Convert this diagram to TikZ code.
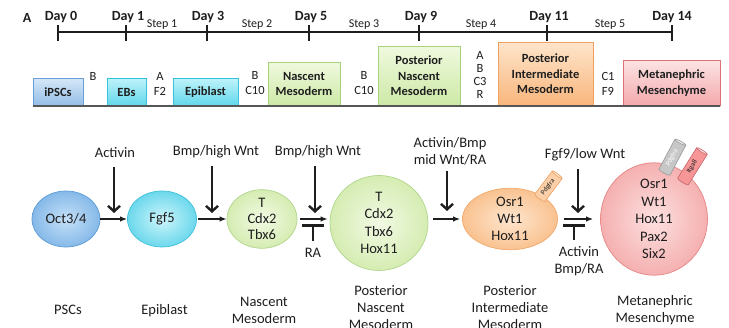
\documentclass[tikz,border=0pt]{standalone}
\usepackage{fontspec}
\setmainfont{Carlito}
\usetikzlibrary{arrows.meta,shapes.geometric,shadows}
\definecolor{ink}{HTML}{1E1E1E}
\definecolor{bluetop}{HTML}{D4E7F8}\definecolor{bluebot}{HTML}{94BDE6}\definecolor{blueline}{HTML}{6B9ED6}
\definecolor{cyantop}{HTML}{BDF3FA}\definecolor{cyanbot}{HTML}{62D7EB}\definecolor{cyanline}{HTML}{36C2D8}
\definecolor{greentop}{HTML}{EFF9DE}\definecolor{greenbot}{HTML}{CDE9A6}\definecolor{greenline}{HTML}{A8D27C}
\definecolor{orangetop}{HTML}{FEE4CA}\definecolor{orangebot}{HTML}{F8B67C}\definecolor{orangeline}{HTML}{F0A160}
\definecolor{pinktop}{HTML}{FCE3E3}\definecolor{pinkbot}{HTML}{F3A8AC}\definecolor{pinkline}{HTML}{DE7078}
\definecolor{octin}{HTML}{C4E1F8}\definecolor{octout}{HTML}{86B9E8}\definecolor{octline}{HTML}{5B9BD5}
\definecolor{fgfin}{HTML}{CDF5FB}\definecolor{fgfout}{HTML}{6CD8EC}\definecolor{fgfline}{HTML}{3FC0D8}
\definecolor{grin}{HTML}{F2FAE4}\definecolor{grout}{HTML}{D5ECB2}\definecolor{grline}{HTML}{B0D68A}
\definecolor{orin}{HTML}{FEE6CF}\definecolor{orout}{HTML}{F9C290}\definecolor{orline}{HTML}{F2A86A}
\definecolor{pkin}{HTML}{FDE0E0}\definecolor{pkout}{HTML}{F5B0B0}\definecolor{pkline}{HTML}{E58585}
\begin{document}
\begin{tikzpicture}[x=1pt,y=-1pt,
  every node/.style={text=ink},
  day/.style={font=\fontsize{14}{16}\selectfont\bfseries, inner sep=0pt},
  stepl/.style={font=\fontsize{12}{14}\selectfont, inner sep=0pt},
  tl/.style={line width=1.8pt, draw=ink},
  box/.style={draw, rectangle, line width=0.9pt, align=center, inner sep=0pt, anchor=south,
     font=\fontsize{12.5}{15.5}\selectfont\bfseries,
     drop shadow={opacity=0.25, shadow xshift=1.3pt, shadow yshift=-1.3pt}},
  bluebox/.style={box, draw=blueline, top color=bluetop, bottom color=bluebot},
  cyanbox/.style={box, draw=cyanline, top color=cyantop, bottom color=cyanbot},
  greenbox/.style={box, draw=greenline, top color=greentop, bottom color=greenbot},
  orangebox/.style={box, draw=orangeline, top color=orangetop, bottom color=orangebot},
  pinkbox/.style={box, draw=pinkline, top color=pinktop, bottom color=pinkbot},
  reag/.style={font=\fontsize{12.5}{15}\selectfont, align=center, inner sep=0pt},
  cell/.style={ellipse, draw, line width=0.7pt, inner sep=0pt, align=center,
     font=\fontsize{14.5}{17}\selectfont},
  octc/.style={cell, draw=octline, inner color=octin, outer color=octout},
  fgfc/.style={cell, draw=fgfline, inner color=fgfin, outer color=fgfout},
  grc/.style={cell, draw=grline, inner color=grin, outer color=grout},
  orc/.style={cell, draw=orline, inner color=orin, outer color=orout},
  pkc/.style={cell, draw=pkline, inner color=pkin, outer color=pkout},
  lab/.style={font=\fontsize{14.5}{17}\selectfont, align=center, inner sep=1pt},
  harrow/.style={line width=2.6pt, draw=ink, -{Latex[length=7pt,width=5.5pt]}},
  varrow/.style={line width=2.4pt, draw=ink, -{Straight Barb[length=5.5pt,width=12pt]}},
  tbar/.style={line width=2.6pt, draw=ink, -{Bar[width=22pt,line width=2.6pt]}},
  cyl/.style={cylinder, draw, line width=0.6pt, aspect=0.3, minimum width=12.5pt, inner sep=0.5pt,
     font=\fontsize{7}{8}\selectfont, cylinder uses custom fill},
]
\clip (0,0) rectangle (729,328);
\fill[white] (0,0) rectangle (729,328);

% ---------- timeline ----------
\node[day] (lA) at (27,18) {A};
\node[day] (d0) at (61,17) {Day 0};
\node[day] (d1) at (128,17) {Day 1};
\node[day] (d3) at (208,17) {Day 3};
\node[day] (d5) at (311,17) {Day 5};
\node[day] (d9) at (421,17) {Day 9};
\node[day] (d11) at (549,17) {Day 11};
\node[day] (d14) at (672,17) {Day 14};
\coordinate (t0) at (58,32);
\coordinate (t1) at (126,32);
\coordinate (t3) at (207,32);
\coordinate (t5) at (309,32);
\coordinate (t9) at (419,32);
\coordinate (t11) at (547,32);
\coordinate (t14) at (672,32);
\draw[tl] (t0) -- (t14);
\foreach \t in {t0,t1,t3,t5,t9,t11,t14}{
  \draw[tl] ([yshift=7pt]\t) -- ([yshift=-9pt]\t);
}
\node[stepl] (s1) at (162,24.5) {Step 1};
\node[stepl] (s2) at (257,24.5) {Step 2};
\node[stepl] (s3) at (364,24.5) {Step 3};
\node[stepl] (s4) at (481,24.5) {Step 4};
\node[stepl] (s5) at (610,24.5) {Step 5};

% ---------- culture boxes ----------
\node[bluebox, minimum width=50pt, minimum height=27pt] (ipsc) at (58,106) {iPSCs};
\node[cyanbox, minimum width=39pt, minimum height=27pt] (ebs) at (126.5,106) {EBs};
\node[cyanbox, minimum width=65pt, minimum height=27pt] (epi) at (205.5,106) {Epiblast};
\node[greenbox, minimum width=72pt, minimum height=43pt] (nas) at (304,106) {Nascent\\Mesoderm};
\node[greenbox, minimum width=82pt, minimum height=59pt] (pnm) at (419,106) {Posterior\\Nascent\\Mesoderm};
\node[orangebox, minimum width=95pt, minimum height=63pt] (pim) at (545.5,106) {Posterior\\Intermediate\\Mesoderm};
\node[pinkbox, minimum width=97pt, minimum height=45pt] (mm) at (671.5,106) {Metanephric\\Mesenchyme};
\draw[line width=1.3pt, draw=ink!75] (ipsc.south west) -- (mm.south east);

\node[reag] (r1) at (93,76) {B};
\node[reag] (r2) at (160,83.5) {A\\F2};
\node[reag] (r3) at (255,83.5) {B\\C10};
\node[reag] (r4) at (364,83.5) {B\\C10};
\node[reag, font=\fontsize{12.5}{13}\selectfont] (r5) at (480,74.5) {A\\B\\C3\\R};
\node[reag] (r6) at (608,83.5) {C1\\F9};

% ---------- cells ----------
\node[octc, minimum width=68pt, minimum height=56pt] (oct) at (66,219) {Oct3/4};
\node[fgfc, minimum width=69pt, minimum height=56pt] (fgf) at (162,219) {Fgf5};
\node[grc, minimum width=70pt, minimum height=54pt, font=\fontsize{14.5}{16}\selectfont] (cnas) at (262,219) {T\\Cdx2\\Tbx6};
\node[grc, minimum width=98pt, minimum height=95pt, font=\fontsize{14.5}{17.5}\selectfont] (cpnm) at (379,223) {T\\Cdx2\\Tbx6\\Hox11};
\node[orc, minimum width=95pt, minimum height=56pt] (cpim) at (510,219) {Osr1\\Wt1\\Hox11};
\node[pkc, minimum width=107pt, minimum height=96pt, font=\fontsize{14.5}{17.5}\selectfont] (cmm) at (654,219) {Osr1\\Wt1\\Hox11\\Pax2\\Six2};

% receptors
\node[cyl, draw=orangeline, cylinder body fill=orin!40!orout, cylinder end fill=orin,
      rotate=53, minimum height=31pt] (pdg1) at (548,187) {Pdgfra};
\node[cyl, draw=black!40, cylinder body fill=black!22, cylinder end fill=black!8,
      rotate=62, minimum height=36pt, text=white] (pdg2) at (672,158) {Pdgfra};
\node[cyl, draw=pinkline!90!black, cylinder body fill=pkout!85!red, cylinder end fill=pkin,
      rotate=58, minimum height=38pt] (itg) at (692,167) {Itga8};

% horizontal arrows
\draw[harrow] (oct.east) -- (fgf.west);
\draw[harrow, shorten <=1.5pt] (fgf.east) -- (cnas.west);
\draw[harrow, shorten <=3pt, shorten >=2pt] (cnas.east) -- (cnas.east -| cpnm.west);
\draw[harrow, shorten <=5pt, shorten >=2pt] (cpnm.east |- cpim.west) -- (cpim.west);
\draw[harrow, shorten <=6pt, shorten >=7pt] (cpim.east) -- (cpim.east -| cmm.west);

% signal labels and arrows
\node[lab] (sg1) at (115,153) {Activin};
\node[lab] (sg2) at (216,152) {Bmp/high Wnt};
\node[lab] (sg3) at (318,152) {Bmp/high Wnt};
\node[lab] (sg4) at (450,151) {Activin/Bmp\\mid Wnt/RA};
\node[lab] (sg5) at (585,155) {Fgf9/low Wnt};
\coordinate (v1) at (114,213);
\coordinate (v2) at (212,213);
\coordinate (v3) at (315,213);
\coordinate (v4) at (447,211);
\coordinate (v5) at (578,213);
\draw[varrow] (sg1.south -| v1) ++(0,8) -- (v1);
\draw[varrow] (sg2.south -| v2) ++(0,7) -- (v2);
\draw[varrow] (sg3.south -| v3) ++(0,7) -- (v3);
\draw[varrow] (sg4.south -| v4) ++(0,5) -- (v4);
\draw[varrow] (sg5.south -| v5) ++(0,7) -- (v5);

% inhibitors
\node[lab] (inh1) at (313,253) {RA};
\node[lab, font=\fontsize{14.5}{17}\selectfont] (inh2) at (579,261.5) {Activin\\Bmp/RA};
\coordinate (b1) at (313,224);
\coordinate (b2) at (574,224);
\draw[tbar] (inh1.north -| b1) ++(0,-6) -- (b1);
\draw[tbar] (inh2.north -| b2) ++(0,-6) -- (b2);

% stage names
\node[lab] (n1) at (68,310) {PSCs};
\node[lab] (n2) at (164.5,311) {Epiblast};
\node[lab] (n3) at (264,310) {Nascent\\Mesoderm};
\node[lab, anchor=north] (n4) at (381,284) {Posterior\\Nascent\\Mesoderm};
\node[lab, anchor=north] (n5) at (510,284) {Posterior\\Intermediate\\Mesoderm};
\node[lab] (n6) at (655,310.5) {Metanephric\\Mesenchyme};
\end{tikzpicture}
\end{document}
